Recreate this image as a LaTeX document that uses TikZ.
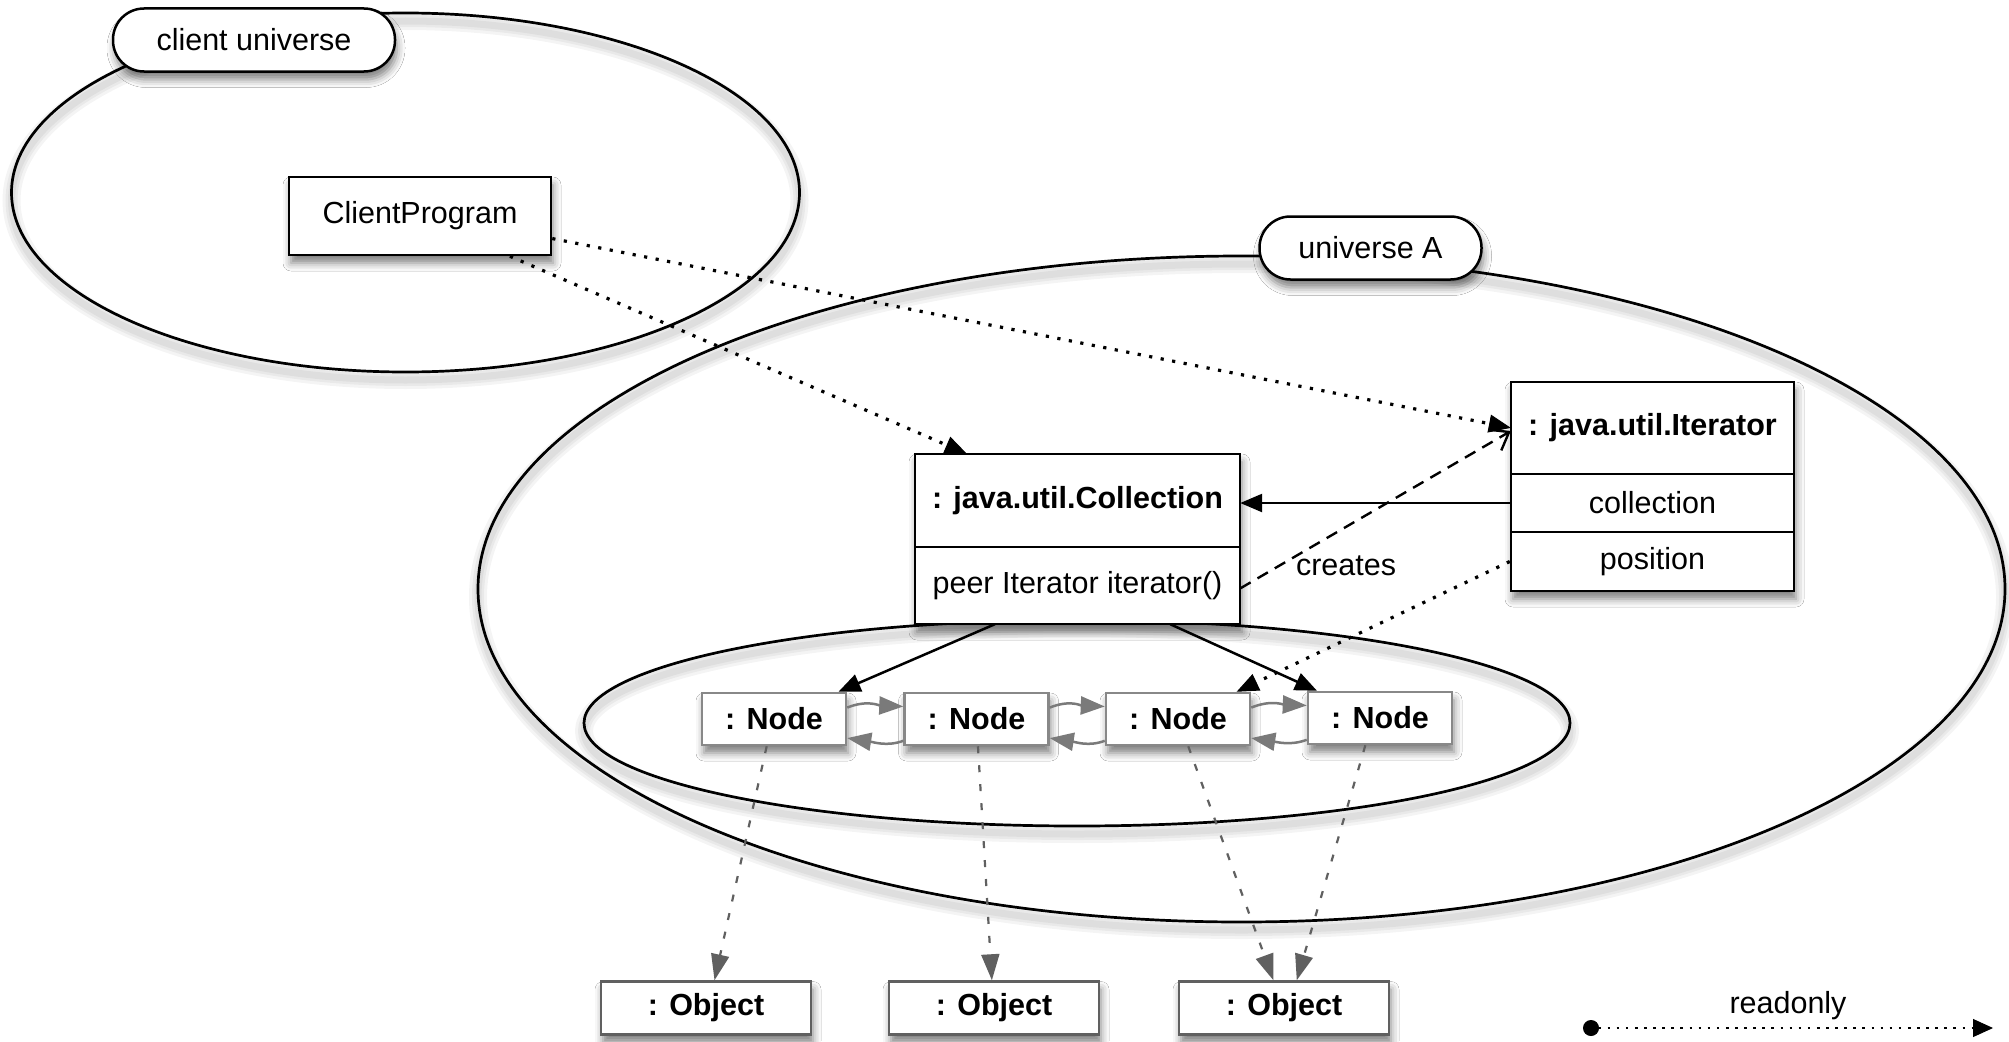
\documentclass[tikz,border=0pt]{standalone}
\usepackage{fontspec}
\setmainfont{Liberation Sans}
\usetikzlibrary{arrows.meta,shadows.blur,shapes.geometric,calc}

\definecolor{linkgray}{HTML}{7A7A7A}
\definecolor{refgray}{HTML}{606060}
\definecolor{nodeedge}{HTML}{888888}

\tikzset{
  lbl/.style={font=\fontsize{30.5}{36}\selectfont},
  softshadow/.style={blur shadow={shadow xshift=2pt, shadow yshift=-8pt,
      shadow blur radius=8pt, shadow opacity=50}},
  umlbox/.style={draw, line width=2.5pt, fill=white, softshadow, inner sep=0pt, lbl},
  shadowbox/.style={fill=white, softshadow, inner sep=0pt},
  compart/.style={draw, line width=2.5pt, fill=white, inner sep=0pt, lbl},
  pill/.style={draw, line width=2.5pt, fill=white, rounded corners=31pt,
      softshadow, inner sep=0pt, lbl, minimum height=63pt},
  region/.style={ellipse, draw, line width=2.7pt, inner sep=0pt},
  haze/.style={line width=#1, black, opacity=0.045},
  listnode/.style={draw=nodeedge, line width=2.5pt, fill=white, softshadow,
      inner sep=0pt, lbl, minimum width=144pt, minimum height=52pt},
  objbox/.style={draw=refgray, line width=2.5pt, fill=white, softshadow,
      inner sep=0pt, lbl, minimum width=210pt, minimum height=53pt},
  solidarrow/.style={line width=2.5pt, -{Triangle[length=22pt,width=18pt]}},
  dotarrow/.style={line width=3.2pt, dash pattern=on 3.2pt off 8.5pt,
      -{Triangle[length=22pt,width=18pt,line width=1pt]}},
  createarrow/.style={line width=2.4pt, dash pattern=on 12pt off 8pt,
      -{Straight Barb[length=16pt,width=24pt,line width=2.4pt]}},
  link/.style={draw=linkgray, line width=2.5pt,
      -{Triangle[length=24pt,width=18pt,fill=linkgray]}},
  refarrow/.style={draw=refgray, line width=2.2pt, dash pattern=on 7pt off 12pt,
      -{Triangle[length=26pt,width=18pt,fill=refgray]}},
}

\begin{document}
\begin{tikzpicture}[x=1pt,y=-1pt]
\useasboundingbox (0,0) rectangle (2009,1041);
\fill[white] (0,0) rectangle (2009,1041);

% soft haze under the region outlines
\foreach \w in {18pt,12pt,7pt}{
  \draw[haze=\w] (405.5,200.5) ellipse [x radius=394, y radius=179.5];
  \draw[haze=\w] (1241.5,597) ellipse [x radius=763.5, y radius=333];
  \draw[haze=\w] (1077,731) ellipse [x radius=493, y radius=103];
}

% regions
\node[region, minimum width=788pt, minimum height=359pt] (cu) at (405.5,192.5) {};
\node[region, minimum width=1527pt, minimum height=666pt] (ua) at (1241.5,589) {};
\node[region, minimum width=986pt, minimum height=206pt] (inner) at (1077,723) {};

% region labels
\node[pill, minimum width=282pt] (culabel) at (254,40) {client universe};
\node[pill, minimum width=222pt] (ualabel) at (1370.5,248) {universe A};

% client program
\node[umlbox, minimum width=262pt, minimum height=78pt] (cp) at (420,216) {ClientProgram};

% collection object
\node[shadowbox, minimum width=325pt, minimum height=170pt] (coll) at (1077.5,539) {};
\node[compart, minimum width=325pt, minimum height=93pt, font=\fontsize{30.5}{36}\selectfont\bfseries]
  (colltitle) at (1077.5,500.5) {: java.util.Collection};
\node[compart, minimum width=325pt, minimum height=77pt] (collop) at (1077.5,585.5) {peer Iterator iterator()};

% iterator object
\node[shadowbox, minimum width=283pt, minimum height=209pt] (it) at (1652.5,486.5) {};
\node[compart, minimum width=283pt, minimum height=92pt, font=\fontsize{30.5}{36}\selectfont\bfseries]
  (ittitle) at (1652.5,428) {: java.util.Iterator};
\node[compart, minimum width=283pt, minimum height=58pt] (itcol) at (1652.5,503) {collection};
\node[compart, minimum width=283pt, minimum height=59pt] (itpos) at (1652.5,561.5) {position};

% list nodes
\node[listnode] (n1) at (774,719) {\bfseries : Node};
\node[listnode] (n2) at (976.5,719) {\bfseries : Node};
\node[listnode] (n3) at (1178,719) {\bfseries : Node};
\node[listnode] (n4) at (1380,718) {\bfseries : Node};

% element objects
\node[objbox] (o1) at (706,1008) {\bfseries : Object};
\node[objbox] (o2) at (994,1008) {\bfseries : Object};
\node[objbox] (o3) at (1284,1008) {\bfseries : Object};

% client references
\draw[dotarrow] ($(cp.south west)!0.84!(cp.south east)$) -- ($(coll.north west)!0.16!(coll.north east)$);
\draw[dotarrow] ($(cp.north east)!0.78!(cp.south east)$) -- ($(it.north west)!0.22!(it.south west)$);

% iterator creation and fields
\draw[createarrow] ($(coll.north east)!0.79!(coll.south east)$) -- ($(it.north west)!0.235!(it.south west)$);
\node[lbl] (creates) at (1346,566) {creates};
\draw[solidarrow] (itcol.west) -- (itcol.west -| coll.east);
\draw[dotarrow] (itpos.west) -- ($(n3.north west)!0.9!(n3.north east)$);

% collection to first and last node
\draw[solidarrow] ($(coll.south west)!0.246!(coll.south east)$) -- ($(n1.north west)!0.94!(n1.north east)$);
\draw[solidarrow] ($(coll.south west)!0.785!(coll.south east)$) -- ($(n4.north west)!0.07!(n4.north east)$);

% next / previous links
\foreach \a/\b in {n1/n2, n2/n3, n3/n4}{
  \draw[link] ($(\a.north east)!0.29!(\a.south east)$)
    .. controls +(20,-8) and +(-24,-1) .. ($(\b.north west)!0.27!(\b.south west)$);
  \draw[link] ($(\b.north west)!0.9!(\b.south west)$)
    .. controls +(-16,6) and +(26,4) .. ($(\a.north east)!0.85!(\a.south east)$);
}

% element references
\draw[refarrow] ($(n1.south west)!0.45!(n1.south east)$) -- ($(o1.north west)!0.54!(o1.north east)$);
\draw[refarrow] ($(n2.south west)!0.51!(n2.south east)$) -- ($(o2.north west)!0.49!(o2.north east)$);
\draw[refarrow] ($(n3.south west)!0.57!(n3.south east)$) -- ($(o3.north west)!0.45!(o3.north east)$);
\draw[refarrow] ($(n4.south west)!0.40!(n4.south east)$) -- ($(o3.north west)!0.56!(o3.north east)$);

% legend
\coordinate (roA) at (1583,1028);
\coordinate (roB) at (1993,1028);
\draw[line width=2.6pt, dash pattern=on 2.6pt off 6.5pt,
  {Circle[length=16pt,line width=1pt]}-{Triangle[length=20pt,width=18pt,line width=1pt]}] (roA) -- (roB);
\node[lbl] (rolabel) at (1788,1006) {readonly};
\end{tikzpicture}
\end{document}
